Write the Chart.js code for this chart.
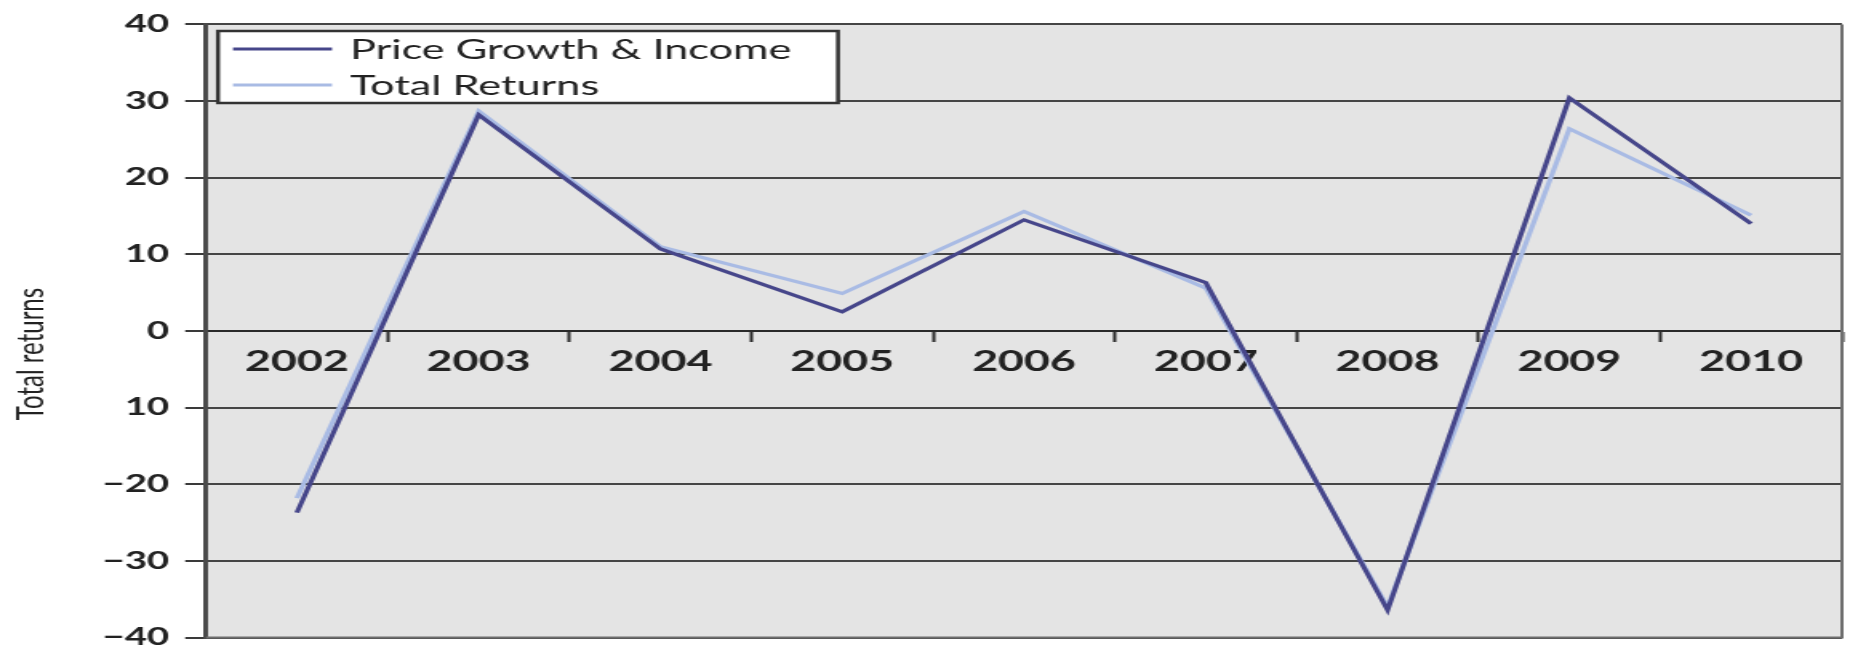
<!DOCTYPE html>
<html>
<head>
<meta charset="utf-8">
<script src="https://cdn.jsdelivr.net/npm/chart.js@4.4.1/dist/chart.umd.min.js"></script>
<style>
  html, body { margin: 0; padding: 0; background: #ffffff; overflow: hidden; }
  #c { display: block; }
</style>
</head>
<body>
<canvas id="c" width="1156" height="662" style="width:1850px;height:662px;"></canvas>
<script>
// ---- data ----
const categories = ['2002', '2003', '2004', '2005', '2006', '2007', '2008', '2009', '2010'];
const priceGrowthIncome = [-23.7, 28.2, 10.7, 2.5, 14.5, 6.3, -36.4, 30.4, 14.0];
const totalReturns = [-21.8, 28.7, 11.0, 4.9, 15.6, 5.6, -36.0, 26.4, 15.1];
const yTickValues = [-40, -30, -20, -10, 0, 10, 20, 30, 40];
const yTickLabels = ['\u221240', '\u221230', '\u221220', '10', '0', '10', '20', '30', '40'];
const seriesNames = ['Price Growth & Income', 'Total Returns'];
const yAxisTitle = 'Total returns';

// The reference image is horizontally stretched; draw on a narrower canvas
// and stretch it with CSS by the same factor.
const STRETCH = 1850 / 1156;
const FONT = 'Lato, "DejaVu Sans", sans-serif';
const DARK = '#46468a';
const LIGHT = '#a9bbe4';

const decorPlugin = {
  id: 'decor',
  beforeDraw(chart) {
    const {ctx, chartArea: a} = chart;
    ctx.save();
    ctx.fillStyle = '#e4e4e4';
    ctx.fillRect(a.left, a.top, a.right - a.left, a.bottom - a.top);
    ctx.restore();
  },
  afterDraw(chart) {
    const {ctx, chartArea: a} = chart;
    ctx.save();
    // right & bottom frame
    ctx.strokeStyle = '#6e6e6e';
    ctx.lineWidth = 2;
    ctx.beginPath();
    ctx.moveTo(a.right, a.top);
    ctx.lineTo(a.right, a.bottom);
    ctx.lineTo(a.left, a.bottom);
    ctx.stroke();

    // y-axis title
    ctx.fillStyle = '#222222';
    ctx.font = '24px ' + FONT;
    ctx.textAlign = 'center';
    ctx.textBaseline = 'middle';
    ctx.translate(19, 354);
    ctx.rotate(-Math.PI / 2);
    ctx.fillText(yAxisTitle, 0, 0);
    ctx.restore();

    // legend box inside plot
    ctx.save();
    const bx = 218 / STRETCH, by = 31, bw = (838 - 218) / STRETCH, bh = 72;
    ctx.fillStyle = '#ffffff';
    ctx.fillRect(bx, by, bw, bh);
    ctx.strokeStyle = '#333333';
    ctx.lineWidth = 2.5;
    ctx.strokeRect(bx, by, bw, bh);
    const rows = [49, 85];
    chart.data.datasets.forEach((ds, i) => {
      ctx.strokeStyle = ds.borderColor;
      ctx.lineWidth = 3;
      ctx.beginPath();
      ctx.moveTo(233 / STRETCH, rows[i]);
      ctx.lineTo(332 / STRETCH, rows[i]);
      ctx.stroke();
      ctx.fillStyle = '#222222';
      ctx.font = '27px ' + FONT;
      ctx.textAlign = 'left';
      ctx.textBaseline = 'middle';
      ctx.fillText(ds.label, 350 / STRETCH, rows[i] + 1);
    });
    ctx.restore();
  }
};

new Chart(document.getElementById('c'), {
  type: 'line',
  data: {
    labels: categories,
    datasets: [
      { label: seriesNames[0], data: priceGrowthIncome, borderColor: DARK, borderWidth: 3.2, pointRadius: 0, tension: 0, fill: false },
      { label: seriesNames[1], data: totalReturns, borderColor: LIGHT, borderWidth: 3.2, pointRadius: 0, tension: 0, fill: false }
    ]
  },
  options: {
    responsive: false,
    animation: false,
    devicePixelRatio: 1,
    layout: { padding: { left: 0, right: 5, top: 21, bottom: 11 } },
    plugins: { legend: { display: false }, tooltip: { enabled: false }, title: { display: false } },
    scales: {
      x: {
        type: 'category',
        position: { y: 0 },
        offset: true,
        grid: { display: true, offset: true, drawOnChartArea: false, drawTicks: true, tickLength: 10, tickColor: '#2a2a2a', tickWidth: 2 },
        border: { display: true, color: '#2a2a2a', width: 2 },
        ticks: { color: '#222222', font: { family: FONT, size: 28, weight: 'bold' }, padding: 4, maxRotation: 0, autoSkip: false }
      },
      y: {
        min: -40, max: 40,
        afterFit(scale) { scale.width = 206 / STRETCH; },
        afterBuildTicks(scale) { scale.ticks = yTickValues.map(v => ({ value: v })); },
        grid: { color: '#454545', lineWidth: 2, drawTicks: true, tickLength: 13, tickColor: '#3a3a3a', tickWidth: 2 },
        border: { display: true, color: '#4a4a4a', width: 3 },
        ticks: {
          color: '#222222', padding: 10,
          font: { family: FONT, size: 24, weight: 'bold' },
          callback: (v) => yTickLabels[yTickValues.indexOf(v)]
        }
      }
    }
  },
  plugins: [decorPlugin]
});
</script>
</body>
</html>
